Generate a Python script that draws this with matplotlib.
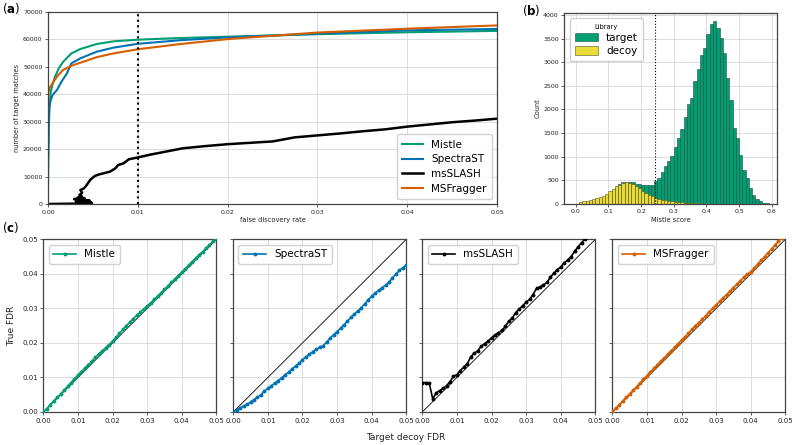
import matplotlib
matplotlib.use("Agg")
import matplotlib.pyplot as plt
import numpy as np

# ---------------- data ----------------
# panel (a): number of target matches vs FDR
mistle_fdr = [0, 0.00003, 0.00008, 0.00015, 0.0003, 0.0005, 0.00078, 0.0012, 0.0017, 0.0026,
              0.0036, 0.0054, 0.0073, 0.01, 0.0147, 0.0203, 0.03, 0.04, 0.05]
mistle_n = [6900, 15000, 25000, 35000, 41000, 43500, 46400, 49500, 51900, 54900,
            56500, 58300, 59300, 59900, 60500, 61000, 61900, 62600, 63100]
spectrast_fdr = [0, 0.00003, 0.00008, 0.00015, 0.0003, 0.0005, 0.001, 0.0015, 0.0021, 0.0026,
                 0.0036, 0.0054, 0.0073, 0.01, 0.0147, 0.0203, 0.03, 0.04, 0.05]
spectrast_n = [17000, 25000, 31000, 35500, 37900, 39700, 41600, 44600, 47600, 51300,
               53100, 55500, 57000, 58400, 59700, 60800, 62100, 63300, 63800]
msfragger_fdr = [0, 0.00002, 0.00006, 0.00015, 0.0006, 0.00115, 0.0017, 0.0026, 0.0036, 0.0054,
                 0.0073, 0.01, 0.0147, 0.0203, 0.03, 0.04, 0.05]
msfragger_n = [36000, 39000, 41000, 42200, 44600, 47000, 48900, 50400, 51500, 53500,
               54900, 56400, 58300, 60200, 62500, 63900, 65100]
msslash_fdr = [0.0, 0.0049, 0.0040, 0.0048, 0.0031, 0.0046, 0.0029, 0.0041, 0.0033, 0.0038,
               0.0035, 0.0038, 0.0036, 0.0040, 0.0043, 0.0047, 0.0052, 0.0056, 0.0062, 0.0069,
               0.0075, 0.0078, 0.0084, 0.0090, 0.0099, 0.0114, 0.0125, 0.015, 0.0175, 0.02,
               0.0225, 0.025, 0.0275, 0.03, 0.0325, 0.035, 0.0375, 0.04, 0.0425, 0.045,
               0.0475, 0.05]
msslash_n = [0, 200, 450, 700, 1000, 1300, 1800, 2000, 2300, 2700,
             3300, 4100, 5100, 5700, 6900, 8800, 10200, 10700, 11200, 11800,
             13000, 14200, 14800, 16300, 16900, 18000, 18700, 20300, 21100, 21800,
             22300, 22800, 24300, 25000, 25700, 26500, 27200, 28200, 29000, 29800,
             30400, 31100]

# panel (b): histogram of Mistle scores (bin width 0.01 starting at 0.00)
bin_left = [round(0.01 * i, 2) for i in range(60)]
target_counts = [0, 5, 15, 25, 35, 45, 60, 80, 110, 150,
                 200, 260, 340, 420, 460, 470, 465, 450, 425, 410,
                 405, 405, 400, 400, 480, 540, 663, 804, 896, 1002,
                 1199, 1390, 1580, 1834, 2116, 2236, 2610, 2850, 3153, 3294,
                 3598, 3802, 3880, 3718, 3506, 3189, 2660, 2201, 1601, 1390,
                 1037, 720, 543, 331, 190, 99, 49, 14, 4, 0]
decoy_counts = [0, 28, 49, 63, 85, 99, 120, 141, 169, 205,
                261, 310, 367, 402, 437, 451, 437, 416, 381, 331,
                261, 226, 190, 155, 120, 99, 85, 70, 56, 49,
                42, 35, 28, 21, 14, 10, 7, 4, 2, 0,
                0, 0, 0, 0, 0, 0, 0, 0, 0, 0,
                0, 0, 0, 0, 0, 0, 0, 0, 0, 0]
score_threshold = 0.242

# panel (c): target-decoy FDR vs true FDR
td_fdr = [round(0.001 * i, 3) for i in range(51)]
true_mistle = [0.0000, 0.0010, 0.0021, 0.0032, 0.0042, 0.0052, 0.0063, 0.0074, 0.0085, 0.0096,
               0.0107, 0.0117, 0.0127, 0.0137, 0.0147, 0.0158, 0.0168, 0.0177, 0.0186, 0.0195,
               0.0205, 0.0216, 0.0228, 0.0239, 0.0250, 0.0260, 0.0270, 0.0280, 0.0289, 0.0298,
               0.0307, 0.0316, 0.0326, 0.0335, 0.0345, 0.0355, 0.0365, 0.0375, 0.0385, 0.0395,
               0.0405, 0.0415, 0.0425, 0.0435, 0.0445, 0.0455, 0.0464, 0.0474, 0.0484, 0.0494,
               0.0503]
true_spectrast = [0.0000, 0.0006, 0.0012, 0.0017, 0.0022, 0.0029, 0.0036, 0.0043, 0.0050, 0.0061,
                  0.0068, 0.0075, 0.0084, 0.0091, 0.0099, 0.0108, 0.0115, 0.0125, 0.0133, 0.0141,
                  0.0151, 0.0160, 0.0167, 0.0175, 0.0181, 0.0188, 0.0192, 0.0203, 0.0214, 0.0224,
                  0.0233, 0.0242, 0.0253, 0.0263, 0.0274, 0.0283, 0.0293, 0.0302, 0.0313, 0.0325,
                  0.0335, 0.0344, 0.0352, 0.0360, 0.0367, 0.0376, 0.0388, 0.0399, 0.0410, 0.0418,
                  0.0425]
td_fdr_msslash = td_fdr[:48]
true_msslash = [0.0085, 0.0085, 0.0084, 0.0038, 0.0055, 0.0062, 0.0068, 0.0076, 0.0088, 0.0103,
                0.0108, 0.0120, 0.0130, 0.0140, 0.0160, 0.0170, 0.0177, 0.0190, 0.0198, 0.0205,
                0.0215, 0.0223, 0.0229, 0.0236, 0.0248, 0.0263, 0.0272, 0.0288, 0.0298, 0.0308,
                0.0318, 0.0326, 0.0340, 0.0358, 0.0362, 0.0368, 0.0375, 0.0390, 0.0402, 0.0412,
                0.0420, 0.0432, 0.0440, 0.0450, 0.0465, 0.0478, 0.0490, 0.0502]
true_msfragger = [0.0000, 0.0011, 0.0021, 0.0032, 0.0042, 0.0052, 0.0063, 0.0073, 0.0084, 0.0095,
                  0.0105, 0.0116, 0.0126, 0.0136, 0.0147, 0.0157, 0.0167, 0.0177, 0.0188, 0.0198,
                  0.0208, 0.0218, 0.0228, 0.0239, 0.0249, 0.0259, 0.0269, 0.0279, 0.0290, 0.0300,
                  0.0310, 0.0320, 0.0330, 0.0340, 0.0350, 0.0360, 0.0370, 0.0380, 0.0390, 0.0399,
                  0.0406, 0.0417, 0.0428, 0.0439, 0.0450, 0.0461, 0.0472, 0.0483, 0.0494, 0.0505,
                  0.0516]

# ---------------- style ----------------
C_MISTLE = "#029e73"
C_SPECTRAST = "#0173b2"
C_MSSLASH = "#000000"
C_MSFRAGGER = "#d55e00"
C_DECOY = "#e8dc38"
GRID = "#dcdcdc"
SPINE = "#444444"

plt.rcParams["font.family"] = ["DejaVu Sans"]

fig = plt.figure(figsize=(7.94, 4.45), dpi=100)


def style_axes(ax, fs):
    ax.grid(True, color=GRID, lw=0.7)
    ax.set_axisbelow(True)
    for s in ax.spines.values():
        s.set_color(SPINE)
        s.set_linewidth(0.9)
    ax.tick_params(labelsize=fs, length=2.5, width=0.6, color=SPINE, pad=1.5,
                   labelcolor="#222222")


# ---- panel (a)
axa = fig.add_axes([0.0605, 0.5416, 0.5655, 0.4315])
style_axes(axa, 4.5)
axa.plot(mistle_fdr, mistle_n, color=C_MISTLE, lw=1.5, label="Mistle")
axa.plot(spectrast_fdr, spectrast_n, color=C_SPECTRAST, lw=1.5, label="SpectraST")
axa.plot(msslash_fdr, msslash_n, color=C_MSSLASH, lw=1.8, label="msSLASH")
axa.plot(msfragger_fdr, msfragger_n, color=C_MSFRAGGER, lw=1.5, label="MSFragger")
axa.axvline(0.01, color="black", ls=":", lw=1.5)
axa.set_xlim(0, 0.05)
axa.set_ylim(0, 70000)
axa.set_xticks([0.0, 0.01, 0.02, 0.03, 0.04, 0.05])
axa.set_xticklabels(["0.00", "0.01", "0.02", "0.03", "0.04", "0.05"])
axa.set_yticks(range(0, 70001, 10000))
axa.set_xlabel("false discovery rate", fontsize=4.8, labelpad=2, color="#222222")
axa.set_ylabel("number of target matches", fontsize=4.8, labelpad=2, color="#222222")
axa.legend(loc="lower right", fontsize=7.5, frameon=True, handlelength=2.0,
           borderpad=0.5, labelspacing=0.45, framealpha=0.9, edgecolor="#cccccc")

# ---- panel (b)
axb = fig.add_axes([0.7107, 0.5423, 0.2675, 0.428])
style_axes(axb, 4.5)
axb.bar(bin_left, target_counts, width=0.01, align="edge", color=C_MISTLE,
        edgecolor="#1d4f3c", linewidth=0.4, label="target")
axb.bar(bin_left, decoy_counts, width=0.01, align="edge", color=C_DECOY,
        edgecolor="#5a5520", linewidth=0.4, label="decoy")
axb.axvline(score_threshold, color="black", ls=":", lw=0.8)
axb.set_xlim(-0.035, 0.615)
axb.set_ylim(0, 4040)
axb.set_xticks([0.0, 0.1, 0.2, 0.3, 0.4, 0.5, 0.6])
axb.set_yticks(range(0, 4001, 500))
axb.set_xlabel("Mistle score", fontsize=4.8, labelpad=2, color="#222222")
axb.set_ylabel("Count", fontsize=4.8, labelpad=2, color="#222222")
leg = axb.legend(loc="upper left", title="Library", fontsize=7.5, title_fontsize=4.8,
                 handlelength=2.2, handleheight=0.9, borderpad=0.5, labelspacing=0.3,
                 framealpha=0.9, edgecolor="#cccccc")

# ---- panel (c)
lefts = [0.0546, 0.2938, 0.5319, 0.7712]
series = [
    ("Mistle", td_fdr, true_mistle, C_MISTLE),
    ("SpectraST", td_fdr, true_spectrast, C_SPECTRAST),
    ("msSLASH", td_fdr_msslash, true_msslash, C_MSSLASH),
    ("MSFragger", td_fdr, true_msfragger, C_MSFRAGGER),
]
ticks_c = [0.0, 0.01, 0.02, 0.03, 0.04, 0.05]
ticklabels_c = ["0.00", "0.01", "0.02", "0.03", "0.04", "0.05"]
for i, (name, xs, ys, col) in enumerate(series):
    ax = fig.add_axes([lefts[i], 0.0742, 0.2179, 0.388])
    style_axes(ax, 5.0)
    ax.plot([0, 0.05], [0, 0.05], color="black", lw=0.6, zorder=2)
    ax.plot(xs, ys, color=col, lw=1.2, marker="o", markersize=1.8, label=name, zorder=3,
            clip_on=True)
    ax.set_xlim(0, 0.05)
    ax.set_ylim(0, 0.05)
    ax.set_xticks(ticks_c)
    ax.set_xticklabels(ticklabels_c)
    ax.set_yticks(ticks_c)
    if i == 0:
        ax.set_yticklabels(ticklabels_c)
        ax.set_ylabel("True FDR", fontsize=6.5, labelpad=4, color="#222222")
    else:
        ax.set_yticklabels([])
    ax.legend(loc="upper left", fontsize=7.5, handlelength=2.2, borderpad=0.45,
              framealpha=0.9, edgecolor="#cccccc")

fig.text(0.511, 0.017, "Target decoy FDR", fontsize=6.5, ha="center", va="center",
         color="#222222")

# panel labels
fig.text(0.003, 0.982, r"($\mathbf{a}$)", fontsize=8.5, ha="left", va="center")
fig.text(0.657, 0.977, r"($\mathbf{b}$)", fontsize=8.5, ha="left", va="center")
fig.text(0.003, 0.488, r"($\mathbf{c}$)", fontsize=8.5, ha="left", va="center")

fig.savefig("out.png", dpi=100)
